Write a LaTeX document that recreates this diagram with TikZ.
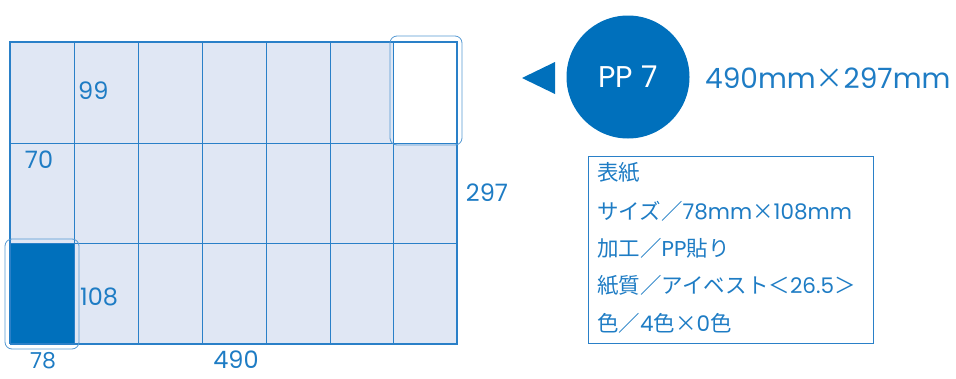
\documentclass[tikz,border=0pt]{standalone}
\usepackage{fontspec}
\setmainfont{Noto Sans CJK JP}
\newfontfamily\lat{Poppins}
\definecolor{gridblue}{HTML}{2A80C8}
\definecolor{darkblue}{HTML}{0070BC}
\definecolor{txtblue}{HTML}{1E7CC4}
\definecolor{lightfill}{HTML}{E0E7F4}
\tikzset{
  cell/.style={draw=gridblue, line width=0.9pt, fill=lightfill, minimum width=63.9pt, minimum height=100.5pt, inner sep=0pt, anchor=north west},
  lbl/.style={text=txtblue, font=\lat\fontsize{24}{26}\selectfont, inner sep=0pt},
  hilite/.style={draw=gridblue!80, line width=0.8pt, rounded corners=7pt},
  infoline/.style={text=txtblue, font=\fontsize{21.5}{23}\selectfont, anchor=west, inner sep=0pt}
}
\begin{document}
\begin{tikzpicture}[x=1pt,y=-1pt]
\useasboundingbox (0,0) rectangle (956,378);
% grid cells
\foreach \c in {0,...,6}{
  \foreach \r in {0,1,2}{
    \node[cell] (c\c r\r) at ({10+\c*63.9},{42+\r*100.5}) {};
  }
}
\node[cell, fill=white] (white) at ({10+6*63.9},42) {};
\node[cell, fill=darkblue] (dark) at (10,243) {};
\draw[gridblue, line width=1.6pt] (10,42) rectangle (457,343.5);
% highlight outlines
\draw[hilite] (390,36) rectangle (462,145);
\draw[hilite] (5,239) rectangle (79,349);
% dimension labels
\node[lbl, anchor=west] (l99) at (78,91) {99};
\node[lbl] (l70) at (39,160) {70};
\node[lbl, anchor=west] (l108) at (80,297) {108};
\node[lbl, font=\lat\fontsize{22}{24}\selectfont] (l78) at (43,361) {78};
\node[lbl] (l490) at (236,360) {490};
\node[lbl] (l297) at (487,193) {297};
% pointer and circle
\fill[darkblue] (522,78) -- (555,62) -- (555,94) -- cycle;
\node[circle, fill=darkblue, minimum size=123pt, inner sep=0pt, text=white, font=\lat\fontsize{30}{32}\selectfont] (pp) at (628,77) {PP 7};
\node[text=txtblue, font=\fontsize{28}{30}\selectfont, anchor=west, inner sep=0pt] (size) at (705,78) {{\lat 490mm}×{\lat 297mm}};
% info box
\draw[gridblue, line width=1pt] (588,156) rectangle (873,343);
\node[infoline] (i1) at (597,173) {表紙};
\node[infoline] (i2) at (597,211) {サイズ／{\lat 78mm}×{\lat 108mm}};
\node[infoline] (i3) at (597,248) {加工／{\lat PP}貼り};
\node[infoline] (i4) at (597,285) {紙質／アイベスト＜{\lat 26.5}＞};
\node[infoline] (i5) at (597,323) {色／{\lat 4}色×{\lat 0}色};
\end{tikzpicture}
\end{document}
